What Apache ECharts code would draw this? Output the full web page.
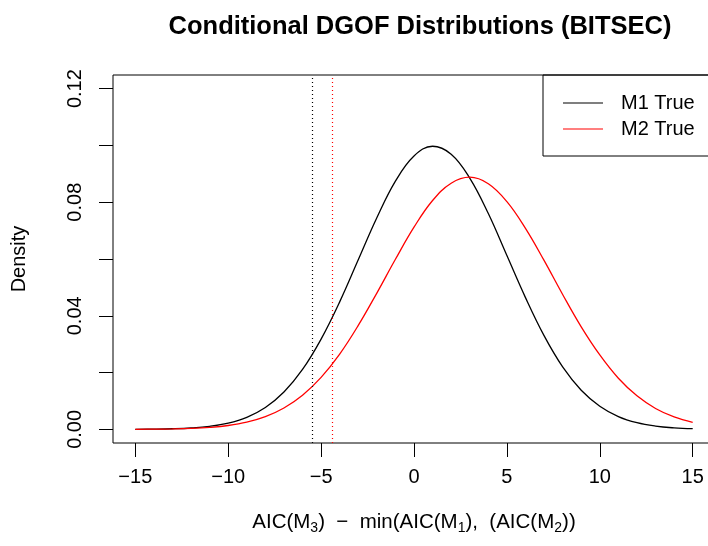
<!DOCTYPE html>
<html>
<head>
<meta charset="utf-8">
<script src="https://cdn.jsdelivr.net/npm/echarts@6/dist/echarts.min.js"></script>
<style>
  html, body { margin: 0; padding: 0; background: #fff; }
  #chart { width: 708px; height: 546px; }
</style>
</head>
<body>
<div id="chart"></div>
<script>
const xValues = [-15, -14, -13, -12, -11, -10, -9, -8, -7, -6, -5, -4, -3, -2, -1, 0,
  1, 2, 3, 4, 5, 6, 7, 8, 9, 10, 11, 12, 13, 14, 15];
const m1True = [0.00003, 0.00008, 0.00021, 0.00049, 0.00107, 0.0022, 0.00425, 0.00772,
  0.01316, 0.0211, 0.0318, 0.0449, 0.0597, 0.0745, 0.0874, 0.0963, 0.0997, 0.0969,
  0.0885, 0.076, 0.0612, 0.0464, 0.033, 0.022, 0.0138, 0.00816, 0.00452, 0.00235,
  0.00115, 0.00053, 0.00023];
const m2True = [0.00003, 0.00007, 0.00016, 0.00034, 0.0007, 0.00136, 0.00253, 0.00447,
  0.00751, 0.012, 0.0183, 0.0265, 0.0366, 0.048, 0.0599, 0.0712, 0.0806, 0.0867,
  0.0888, 0.0865, 0.0802, 0.0708, 0.0595, 0.0475, 0.0361, 0.0262, 0.018, 0.0118,
  0.00736, 0.00437, 0.00247];
// dotted cut-off lines (M1 black, M2 red)
const cutM1 = -5.5;
const cutM2 = -4.4;

const xTicks = [-15, -10, -5, 0, 5, 10, 15];
const yTicks = [0, 0.02, 0.04, 0.06, 0.08, 0.1, 0.12];
const yLabels = [0, 0.04, 0.08, 0.12];

const FONT = '"Liberation Sans", Arial, sans-serif';

const pairs = (ys) => xValues.map((x, i) => [x, ys[i]]);
const minus = (v) => (v < 0 ? '\u2212' + Math.abs(v) : String(v));

const chart = echarts.init(document.getElementById('chart'), null, { renderer: 'canvas' });

chart.setOption({
  backgroundColor: '#fff',
  animation: false,
  textStyle: { fontFamily: FONT },
  title: {
    text: 'Conditional DGOF Distributions (BITSEC)',
    left: 415,
    top: 9,
    textAlign: 'center',
    textStyle: { fontFamily: FONT, fontSize: 25.5, fontWeight: 'bold', color: '#000' },
  },
  legend: {
    orient: 'vertical',
    left: 543,
    top: 75,
    padding: [18, 120, 17, 20],
    itemGap: 6,
    itemWidth: 40,
    itemHeight: 1,
    icon: 'rect',
    borderColor: '#000',
    borderWidth: 1,
    borderRadius: 0,
    textStyle: { fontFamily: FONT, fontSize: 20, color: '#000', lineHeight: 16, padding: [0, 0, 0, 13] },
    data: ['M1 True', 'M2 True'],
  },
  grid: {
    left: 113,
    top: 75,
    width: 602,
    height: 368,
    show: true,
    borderColor: '#000',
    borderWidth: 1,
    containLabel: false,
    outerBoundsMode: 'none',
  },
  xAxis: {
    type: 'value',
    min: -16.2,
    max: 16.2,
    name: '{t|AIC(M}{s|3}{t|)  \u2212  min(AIC(M}{s|1}{t|),  (AIC(M}{s|2}{t|))}',
    nameLocation: 'middle',
    nameGap: 66,
    nameTextStyle: {
      rich: {
        t: { fontFamily: FONT, fontSize: 20.5, color: '#000', lineHeight: 26, verticalAlign: 'middle' },
        s: { fontFamily: FONT, fontSize: 14, color: '#000', lineHeight: 26, verticalAlign: 'bottom' },
      },
    },
    axisLine: { show: false, onZero: false },
    axisTick: { show: true, length: 14, customValues: xTicks, lineStyle: { color: '#000' } },
    axisLabel: {
      customValues: xTicks,
      margin: 24,
      fontFamily: FONT,
      fontSize: 20,
      color: '#000',
      formatter: minus,
    },
    splitLine: { show: false },
  },
  yAxis: {
    type: 'value',
    min: -0.0048,
    max: 0.1248,
    name: 'Density',
    nameLocation: 'middle',
    nameRotate: 90,
    nameGap: 84,
    nameTextStyle: { fontFamily: FONT, fontSize: 20, color: '#000' },
    axisLine: { show: false, onZero: false },
    axisTick: { show: true, length: 14, customValues: yTicks, lineStyle: { color: '#000' } },
    axisLabel: {
      customValues: yLabels,
      rotate: 90,
      margin: 28,
      fontFamily: FONT,
      fontSize: 20,
      color: '#000',
      formatter: (v) => v.toFixed(2),
    },
    splitLine: { show: false },
  },
  series: [
    {
      name: 'M1 True',
      type: 'line',
      data: pairs(m1True),
      smooth: 0.4,
      showSymbol: false,
      symbol: 'none',
      color: '#000',
      lineStyle: { color: '#000', width: 1.3 },
      markLine: {
        silent: true,
        symbol: 'none',
        label: { show: false },
        lineStyle: { color: '#000', type: [1, 3], width: 1.2 },
        data: [{ xAxis: cutM1 }],
      },
    },
    {
      name: 'M2 True',
      type: 'line',
      data: pairs(m2True),
      smooth: 0.4,
      showSymbol: false,
      symbol: 'none',
      color: '#ff0000',
      lineStyle: { color: '#ff0000', width: 1.3 },
      markLine: {
        silent: true,
        symbol: 'none',
        label: { show: false },
        lineStyle: { color: '#ff0000', type: [1, 3], width: 1.2 },
        data: [{ xAxis: cutM2 }],
      },
    },
  ],
});
</script>
</body>
</html>
